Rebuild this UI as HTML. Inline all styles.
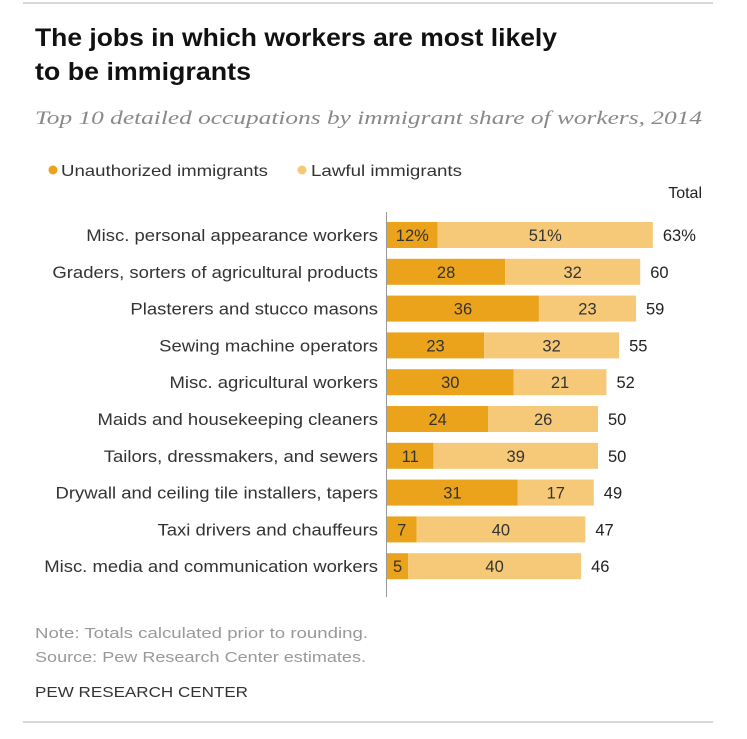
<!DOCTYPE html>
<html><head><meta charset="utf-8"><style>
html,body{margin:0;padding:0;background:#fff;}
svg{display:block;font-family:"Liberation Sans",sans-serif;}
</style></head><body>
<svg id="chart" width="747" height="739" viewBox="0 0 747 739">
<line x1="23" y1="3" x2="713" y2="3" stroke="#ccc" stroke-width="1.5"/>
<text x="35" y="46" font-size="25" font-weight="bold" fill="#111" textLength="522" lengthAdjust="spacingAndGlyphs">The jobs in which workers are most likely</text>
<text x="35" y="80" font-size="25" font-weight="bold" fill="#111" textLength="216" lengthAdjust="spacingAndGlyphs">to be immigrants</text>
<text x="35" y="124" font-size="19" font-style="italic" fill="#888" font-family="Liberation Serif,serif" textLength="667" lengthAdjust="spacingAndGlyphs">Top 10 detailed occupations by immigrant share of workers, 2014</text>
<g>
<circle cx="53" cy="170" r="4.5" fill="#EAA31B"/>
<text x="61" y="176" font-size="16" fill="#333" textLength="207" lengthAdjust="spacingAndGlyphs">Unauthorized immigrants</text>
<circle cx="302" cy="170" r="4.5" fill="#F6C978"/>
<text x="311" y="176" font-size="16" fill="#333" textLength="151" lengthAdjust="spacingAndGlyphs">Lawful immigrants</text>
</g>
<text x="702" y="198" font-size="16" fill="#222" text-anchor="end">Total</text>
<g id="bars"></g>
<line x1="386.5" y1="212" x2="386.5" y2="597" stroke="#999" stroke-width="1"/>
<text x="35" y="638" font-size="15" fill="#999" textLength="333" lengthAdjust="spacingAndGlyphs">Note: Totals calculated prior to rounding.</text>
<text x="35" y="662" font-size="15" fill="#999" textLength="331" lengthAdjust="spacingAndGlyphs">Source: Pew Research Center estimates.</text>
<text x="35" y="697" font-size="15" fill="#333" textLength="213" lengthAdjust="spacingAndGlyphs">PEW RESEARCH CENTER</text>
<line x1="23" y1="722" x2="713" y2="722" stroke="#ccc" stroke-width="1.5"/>
</svg>
<script>
const categories=["Misc. personal appearance workers","Graders, sorters of agricultural products","Plasterers and stucco masons","Sewing machine operators","Misc. agricultural workers","Maids and housekeeping cleaners","Tailors, dressmakers, and sewers","Drywall and ceiling tile installers, tapers","Taxi drivers and chauffeurs","Misc. media and communication workers"];
const unauthorized=[12,28,36,23,30,24,11,31,7,5];
const lawful=[51,32,23,32,21,26,39,17,40,40];
const totals=[63,60,59,55,52,50,50,49,47,46];
const NS="http://www.w3.org/2000/svg";
const g=document.getElementById('bars');
const x0=387, pxPer=4.22, y0=235, step=36.8, bh=26;
const xs=v=>x0+v*pxPer;
const yc=i=>y0+i*step;
function mk(t,a){const e=document.createElementNS(NS,t);for(const k in a)e.setAttribute(k,a[k]);g.appendChild(e);return e;}
function stretch(e,f){const w=e.getComputedTextLength();e.setAttribute('textLength',w*f);e.setAttribute('lengthAdjust','spacingAndGlyphs');}
categories.forEach((c,i)=>{
  const y=yc(i);
  const lab=mk('text',{x:378,y:y+6,'font-size':16.5,fill:'#333','text-anchor':'end'});
  lab.textContent=c;
  
  
  stretch(lab,1.12);
  const u=unauthorized[i], l=lawful[i], t=totals[i];
  const r1=mk('rect',{x:xs(0),y:y-bh/2,width:xs(u)-xs(0),height:bh,fill:'#EAA31B'});
  
  
  const lEnd=xs(t);
  const r2=mk('rect',{x:xs(u),y:y-bh/2,width:lEnd-xs(u),height:bh,fill:'#F6C978'});
  
  
  const sfx=i===0?'%':'';
  const t1=mk('text',{x:(xs(0)+xs(u))/2,y:y+6,'font-size':16.5,fill:'#333','text-anchor':'middle'});
  t1.textContent=u+sfx;
  
  
  const t2=mk('text',{x:(xs(u)+lEnd)/2,y:y+6,'font-size':16.5,fill:'#333','text-anchor':'middle'});
  t2.textContent=l+sfx;
  
  
  const t3=mk('text',{x:lEnd+10,y:y+6,'font-size':16.5,fill:'#222'});
  t3.textContent=t+sfx;
  
  
});
</script>
</body></html>
